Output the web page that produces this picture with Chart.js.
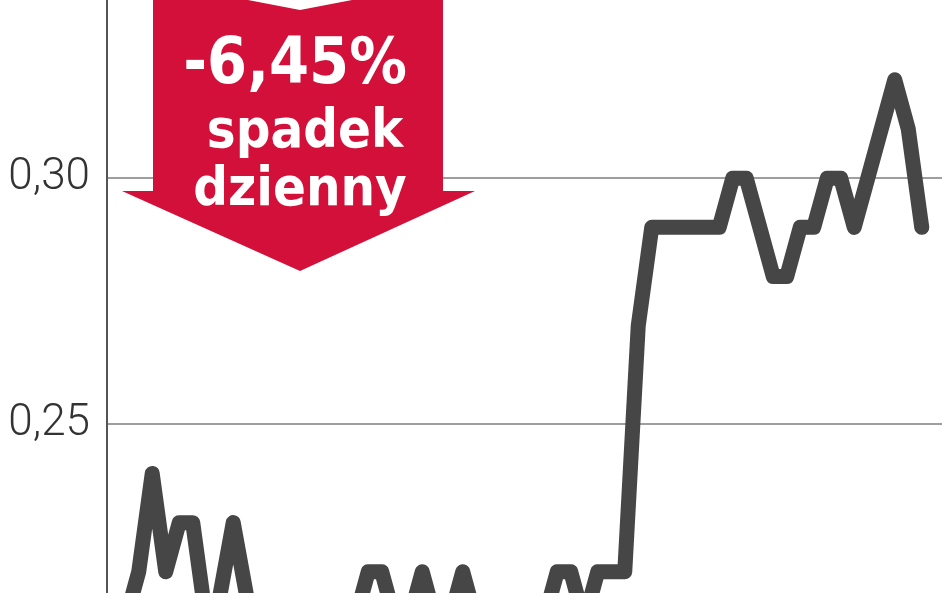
<!DOCTYPE html>
<html>
<head>
<meta charset="utf-8">
<script src="https://cdn.jsdelivr.net/npm/chart.js@4.4.1/dist/chart.umd.min.js"></script>
<style>
  html, body { margin: 0; padding: 0; background: #fff; }
  #wrap { width: 948px; height: 593px; }
</style>
</head>
<body>
<div id="wrap"><canvas id="priceChart"></canvas></div>
<script>
// Daily closing prices (PLN)
const sessions = [
    1, 2, 3, 4, 5, 6, 7, 8, 9, 10, 11, 12, 13, 14, 15, 16, 17, 18, 19, 20,
    21, 22, 23, 24, 25, 26, 27, 28, 29, 30, 31, 32, 33, 34, 35, 36, 37, 38, 39, 40,
    41, 42, 43, 44, 45, 46, 47, 48, 49, 50, 51, 52, 53, 54, 55, 56, 57, 58, 59, 60, 61
];
const prices = [
    0.20, 0.21, 0.22, 0.24, 0.22, 0.23, 0.23, 0.21, 0.215, 0.23,
    0.215, 0.20, 0.20, 0.20, 0.21, 0.20, 0.20, 0.21, 0.21, 0.22,
    0.22, 0.21, 0.21, 0.22, 0.21, 0.21, 0.22, 0.21, 0.20, 0.20,
    0.21, 0.20, 0.21, 0.22, 0.22, 0.21, 0.22, 0.22, 0.22, 0.27,
    0.29, 0.29, 0.29, 0.29, 0.29, 0.29, 0.30, 0.30, 0.29, 0.28,
    0.28, 0.29, 0.29, 0.30, 0.30, 0.29, 0.30, 0.31, 0.32, 0.31, 0.29
];
const yTicks = [0.25, 0.30];
const changeLines = ['-6,45%', 'spadek', 'dzienny'];

// Red "down" arrow with the daily change
const arrowPlugin = {
    id: 'dropArrow',
    afterDatasetsDraw(chart) {
        const { ctx, chartArea } = chart;
        const l = chartArea.left, t = chartArea.top;
        const cx = l + 193;
        ctx.save();
        ctx.fillStyle = '#d2103a';
        ctx.beginPath();
        ctx.moveTo(l + 46, t);
        ctx.lineTo(cx - 52, t);
        ctx.lineTo(cx, t + 10);
        ctx.lineTo(cx + 52, t);
        ctx.lineTo(l + 336, t);
        ctx.lineTo(l + 336, t + 191);
        ctx.lineTo(l + 368, t + 191);
        ctx.lineTo(cx, t + 271);
        ctx.lineTo(l + 15, t + 191);
        ctx.lineTo(l + 46, t + 191);
        ctx.closePath();
        ctx.fill();

        ctx.fillStyle = '#ffffff';
        ctx.textAlign = 'center';
        ctx.textBaseline = 'alphabetic';
        ctx.font = 'bold 64px "DejaVu Sans Condensed", "DejaVu Sans"';
        ctx.fillText(changeLines[0], cx - 5, t + 83);
        ctx.font = 'bold 54px "DejaVu Sans Condensed", "DejaVu Sans"';
        ctx.fillText(changeLines[1], cx + 5, t + 147);
        ctx.fillText(changeLines[2], cx, t + 205);
        ctx.restore();
    }
};

const ctx = document.getElementById('priceChart').getContext('2d');
const priceChart = new Chart(ctx, {
    type: 'line',
    data: {
        datasets: [{
            data: prices.map((p, i) => ({ x: i, y: p })),
            borderColor: '#464646',
            borderWidth: 15,
            borderJoinStyle: 'round',
            borderCapStyle: 'round',
            pointRadius: 0,
            tension: 0,
            fill: false
        }]
    },
    options: {
        responsive: true,
        maintainAspectRatio: false,
        animation: false,
        layout: { padding: { top: 0, right: 6, bottom: 0, left: 0 } },
        plugins: {
            legend: { display: false },
            title: { display: false },
            tooltip: { enabled: false }
        },
        scales: {
            x: {
                type: 'linear',
                display: false,
                min: -0.35,
                max: sessions.length + 0.5
            },
            y: {
                min: 0.2157,
                max: 0.3362,
                afterFit(scale) {
                    scale.width = 107;
                    scale.paddingTop = 0;
                    scale.paddingBottom = 0;
                },
                afterBuildTicks(scale) {
                    scale.ticks = yTicks.map(v => ({ value: v }));
                },
                border: { display: true, color: '#555555', width: 2 },
                grid: {
                    color: '#9e9e9e',
                    lineWidth: 2,
                    drawTicks: false
                },
                ticks: {
                    padding: 17,
                    color: '#333333',
                    font: { family: 'Roboto', size: 44, weight: '300' },
                    callback: v => v.toFixed(2).replace('.', ',')
                }
            }
        }
    },
    plugins: [arrowPlugin]
});
</script>
</body>
</html>
